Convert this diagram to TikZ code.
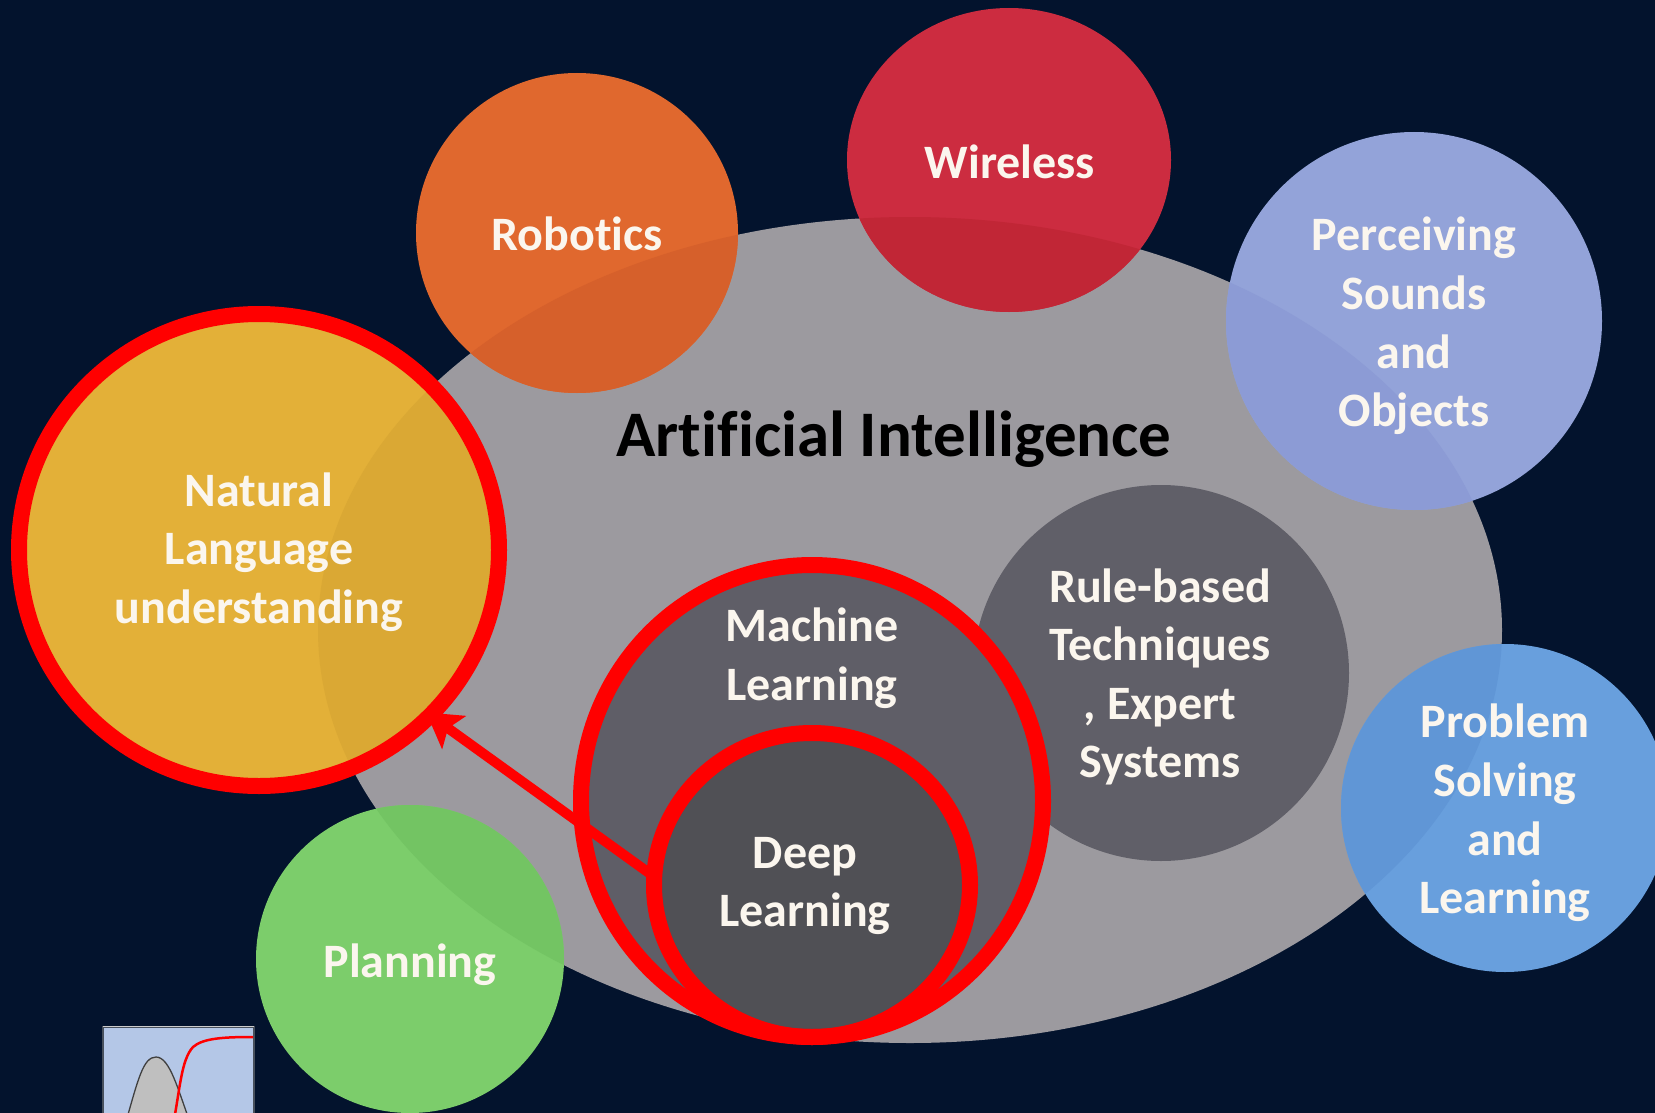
\documentclass[tikz,border=0pt]{standalone}
\usepackage{fontspec}
\setmainfont{Carlito}[BoldFont={Carlito Bold},Ligatures=NoCommon]
\usetikzlibrary{shapes.geometric,arrows.meta}
\definecolor{bg}{HTML}{03132D}
\definecolor{aigray}{HTML}{9C9A9F}
\definecolor{ruleC}{HTML}{605F68}
\definecolor{mlC}{HTML}{5F5E67}
\definecolor{dlC}{HTML}{505055}
\definecolor{percC}{HTML}{93A3D9}\definecolor{percD}{HTML}{8C9BD5}
\definecolor{probC}{HTML}{689FDD}\definecolor{probD}{HTML}{6096D6}
\definecolor{planC}{HTML}{7CCD6B}\definecolor{planD}{HTML}{73C463}
\definecolor{wireC}{HTML}{CC2C40}\definecolor{wireD}{HTML}{C12636}
\definecolor{orgC}{HTML}{E0682E}\definecolor{orgD}{HTML}{D6602B}
\definecolor{natC}{HTML}{E3B038}\definecolor{natD}{HTML}{DAA834}
\definecolor{txtC}{HTML}{FBF6EE}
\definecolor{insetC}{HTML}{B4C7E7}
\newcommand{\AIclip}{\clip (910,630) ellipse [x radius=592pt,y radius=413pt];}
\newcommand{\bubble}[6]{% x,y,rx,ry,base,dark
  \fill[#5] (#1,#2) ellipse [x radius=#3pt,y radius=#4pt];
  \begin{scope}\AIclip\fill[#6] (#1,#2) ellipse [x radius=#3pt,y radius=#4pt];\end{scope}}
\tikzset{
  lab/.style={text=txtC,font=\fontsize{48}{58.6}\selectfont\bfseries,align=center,inner sep=0pt},
  rim/.style={ellipse,inner sep=0pt,outer sep=0pt,draw=red,line width=16pt}
}
\begin{document}
\begin{tikzpicture}[x=1pt,y=-1pt]
\clip (0,0) rectangle (1655,1113);
\fill[bg] (0,0) rectangle (1655,1113);
% main ellipse
\node[ellipse,fill=aigray,inner sep=0pt,minimum width=1184pt,minimum height=826pt] (ai) at (910,630) {};
\node[text=black,font=\fontsize{65}{70}\selectfont\bfseries,inner sep=0pt] (aitext) at (894,439) {Artificial Intelligence};
% outer bubbles
\bubble{577}{233}{161}{160}{orgC}{orgD}
\bubble{1009}{160}{162}{152}{wireC}{wireD}
\bubble{1414}{321}{188}{189}{percC}{percD}
\bubble{1505}{808}{164}{164}{probC}{probD}
\bubble{410}{959}{154}{154}{planC}{planD}
\bubble{259}{550}{240}{236}{natC}{natD}
\node[lab] (robotics) at (577,234) {Robotics};
\node[lab] (wireless) at (1010,162) {Wireless};
\node[lab] (perc) at (1414,326) {Perceiving\\Sounds\\and\\Objects};
\node[lab] (prob) at (1505,813) {Problem\\Solving\\and\\Learning};
\node[lab] (plan) at (410,965) {Planning};
\node[lab] (natl) at (259,552) {Natural\\Language\\understanding};
% inner bubbles
\node[ellipse,fill=ruleC,inner sep=0pt,minimum width=376pt,minimum height=376pt] (rule) at (1161,673) {};
\node[lab] (ruletext) at (1160,677) {Rule-based\\Techniques\\, Expert\\Systems};
\node[ellipse,fill=mlC,inner sep=0pt,minimum width=462pt,minimum height=472pt] (ml) at (812,801) {};
\node[ellipse,fill=dlC,inner sep=0pt,minimum width=316pt,minimum height=304pt] (dl) at (812,885) {};
\node[lab] (mltext) at (812,658) {Machine\\Learning};
\node[lab] (dltext) at (805,886) {Deep\\Learning};
% red rings
\node[rim,minimum width=480pt,minimum height=472pt] (natring) at (259,550) {};
\node[rim,minimum width=462pt,minimum height=472pt] (mlring) at (812,801) {};
\node[rim,minimum width=316pt,minimum height=304pt] (dlring) at (812,885) {};
% arrow
\draw[red,line width=10pt,shorten >=-5pt,-{Stealth[length=34pt,width=40pt,inset=7pt]}] (dlring.177) -- (natring.-44.5);
% inset
\draw[fill=insetC,draw=black!60!insetC,line width=1.5pt] (103,1027) rectangle (254,1130);
\draw[white!80!black,line width=1pt] (103,1026.5) -- (254,1026.5);
\draw[fill=black!25,draw=black!75,line width=1.3pt] (125,1125) .. controls (138,1080) and (143,1057) .. (156,1057) .. controls (170,1057) and (178,1090) .. (191,1125);
\draw[red,line width=2.5pt] (173,1125) .. controls (180,1090) and (181,1060) .. (193,1047) .. controls (203,1038) and (225,1037) .. (253,1037);
\end{tikzpicture}
\end{document}
